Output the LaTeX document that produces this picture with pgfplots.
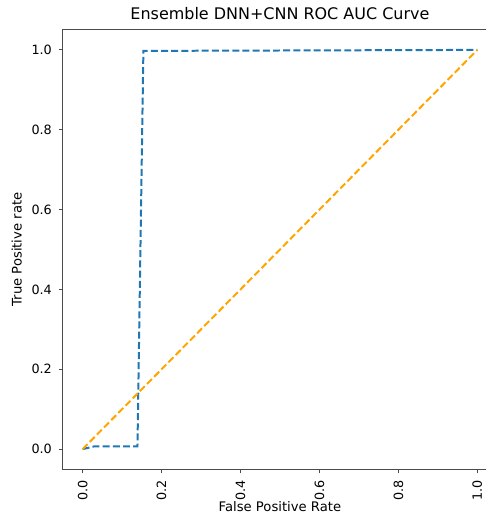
\documentclass[border=0pt]{standalone}
\usepackage{pgfplots}
\pgfplotsset{compat=1.18}
\usepackage{fontspec}
\setmainfont{DejaVu Sans}
\definecolor{mplblue}{HTML}{1F77B4}
\definecolor{mplorange}{HTML}{FFA500}
\begin{document}
\begin{tikzpicture}
\begin{axis}[
  name=A,
  scale only axis,
  width=217.5pt, height=220pt,
  xmin=-0.05, xmax=1.05, ymin=-0.05, ymax=1.05,
  xtick={0,0.2,0.4,0.6,0.8,1.0},
  ytick={0,0.2,0.4,0.6,0.8,1.0},
  xticklabel style={rotate=90, anchor=east, font=\fontsize{6.4}{7}\selectfont},
  yticklabel style={font=\fontsize{6.4}{7}\selectfont},
  /pgf/number format/assume math mode=true,
  /pgf/number format/fixed, /pgf/number format/fixed zerofill, /pgf/number format/precision=1,
  tick align=outside, tick pos=lower,
  major tick length=2pt,
  axis line style={draw=black!70, line width=0.5pt},
  tick style={black!70, line width=0.5pt},
  title={Ensemble DNN+CNN ROC AUC Curve},
  title style={font=\fontsize{8}{9}\selectfont, yshift=-4.5pt},
  xlabel={False Positive Rate},
  ylabel={True Positive rate},
  label style={font=\fontsize{6.6}{7}\selectfont},
  xlabel style={yshift=6.5pt},
  ylabel style={yshift=-2pt},
  clip=false,
]
\addplot[mplblue, line width=1pt, dash pattern=on 3.5pt off 1.6pt] coordinates {
  (0,0) (0.03,0.007) (0.139,0.007) (0.154,0.9975) (1.0,1.0)
};
\addplot[mplorange, line width=1pt, dash pattern=on 3.5pt off 1.6pt] coordinates {
  (0,0) (1,1)
};
\coordinate (R) at (axis cs:1.02,0);
\end{axis}
\coordinate (SW) at ([xshift=-31.5pt,yshift=-23pt]A.south west);
\coordinate (NE) at ([yshift=15pt]A.north east);
\pgfresetboundingbox
\path[use as bounding box] (SW) rectangle (R |- NE);
\end{tikzpicture}
\end{document}
